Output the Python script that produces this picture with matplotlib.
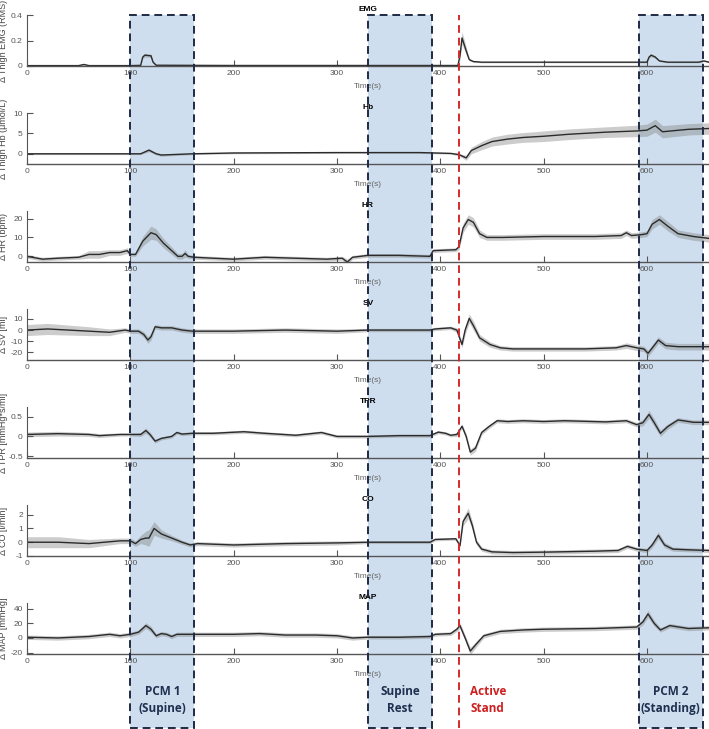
import numpy as np
import matplotlib
matplotlib.use("Agg")
import matplotlib.pyplot as plt
from matplotlib.patches import Rectangle
from matplotlib.transforms import blended_transform_factory

plt.rcParams['font.family'] = ['Liberation Sans', 'DejaVu Sans']

# ---- data (time in s, mean and spread) ----
t_emg = [0, 50, 55, 60, 100, 110, 112, 114, 120, 122, 125, 200, 300, 417, 419, 421, 423, 425, 428, 432, 440, 500, 600, 602, 604, 608, 612, 620, 650, 655, 660]
m_emg = [0.003, 0.003, 0.012, 0.003, 0.003, 0.005, 0.07, 0.085, 0.08, 0.03, 0.006, 0.004, 0.004, 0.004, 0.08, 0.22, 0.17, 0.12, 0.05, 0.035, 0.03, 0.03, 0.03, 0.07, 0.085, 0.07, 0.04, 0.03, 0.03, 0.04, 0.03]
s_emg = [0.004, 0.004, 0.006, 0.004, 0.004, 0.004, 0.012, 0.015, 0.012, 0.008, 0.004, 0.004, 0.004, 0.004, 0.03, 0.05, 0.04, 0.03, 0.01, 0.006, 0.005, 0.005, 0.005, 0.01, 0.012, 0.01, 0.006, 0.005, 0.005, 0.006, 0.005]

t_hb = [0, 100, 110, 118, 125, 130, 160, 200, 300, 380, 410, 418, 425, 430, 440, 450, 465, 480, 500, 525, 560, 590, 600, 608, 615, 640, 660]
m_hb = [0, 0, 0, 0.9, 0, -0.3, 0, 0.2, 0.3, 0.3, 0.1, -0.2, -1.0, 0.8, 2.0, 3.0, 3.6, 4.0, 4.3, 4.8, 5.3, 5.6, 5.8, 6.9, 5.4, 6.0, 6.2]
s_hb = [0.2, 0.2, 0.2, 0.4, 0.3, 0.3, 0.2, 0.2, 0.2, 0.2, 0.2, 0.3, 0.6, 0.8, 1.0, 1.1, 1.2, 1.2, 1.3, 1.3, 1.3, 1.4, 1.5, 1.6, 1.5, 1.4, 1.4]

t_hr = [0, 10, 15, 30, 50, 60, 70, 80, 90, 97, 100, 105, 112, 120, 125, 132, 140, 146, 150, 153, 156, 162, 180, 200, 230, 260, 290, 305, 310, 315, 330, 360, 390, 393, 415, 418, 422, 427, 432, 438, 445, 460, 500, 550, 575, 580, 585, 595, 600, 605, 612, 620, 630, 645, 660]
m_hr = [0, -1, -1.5, -1, -0.5, 1, 1, 2, 2, 3, 1, 1, 8, 12.5, 11.5, 7, 3, 0, 0, 1.5, 0, -0.5, -1, -1.5, -0.5, -1, -1.5, -1, -3, -0.5, 0.5, 0.5, 0, 3, 3.5, 5, 15, 19.5, 18, 12, 10, 10, 10.5, 10.5, 11, 12.5, 11, 11.5, 12, 17, 19.5, 16, 12, 10.5, 9.5]
s_hr = [1, 1, 1, 1, 1, 2, 2, 1.5, 1.5, 1.5, 1, 1, 2.5, 3.5, 3, 2.5, 2, 1.5, 1.5, 2, 1, 1, 1, 1, 1, 1, 1, 1, 1.5, 1, 1, 1, 1, 1, 1, 1.5, 2.5, 2.5, 2.5, 2, 1.5, 1.5, 1.5, 1.5, 1.5, 1.5, 1.5, 1.5, 1.5, 2.5, 2.5, 2.5, 2, 2, 2]

t_sv = [0, 20, 40, 60, 80, 95, 100, 108, 113, 117, 120, 124, 130, 140, 150, 160, 200, 250, 300, 330, 360, 390, 395, 410, 416, 419, 421, 424, 428, 432, 438, 448, 458, 470, 500, 540, 570, 580, 590, 597, 601, 611, 618, 630, 660]
m_sv = [0, 1, 0, -1, -2, 0, -1, -1, -4, -9, -6, 3, 2, 2, 0, -1, -1, 0, -1, 0, 0, 0, 1, 2, 0, -8, -13, 0, 10.5, 4, -7, -13, -16, -17, -17, -17, -16, -14, -16, -17, -21, -9, -14, -15, -15]
s_sv = [5, 5, 4.5, 4, 3, 2, 2, 2, 2.5, 3, 3, 2, 2, 2, 2, 2, 2, 2, 2, 1.5, 1.5, 1.5, 1.5, 1.5, 2, 3, 3, 4, 4, 4, 3, 2.5, 2, 2, 2, 2, 2, 2.5, 2.5, 2.5, 3, 3, 3, 3, 3]

t_tpr = [0, 30, 60, 70, 90, 100, 110, 115, 119, 124, 130, 140, 145, 150, 160, 180, 210, 230, 260, 285, 300, 320, 330, 360, 390, 398, 405, 410, 416, 421, 425, 429, 434, 440, 447, 455, 465, 480, 500, 520, 560, 580, 590, 596, 602, 607, 613, 620, 630, 645, 660]
m_tpr = [0.05, 0.07, 0.05, 0.02, 0.05, 0.05, 0.05, 0.15, 0.05, -0.12, -0.05, 0.0, 0.1, 0.06, 0.08, 0.08, 0.12, 0.08, 0.03, 0.1, 0.0, 0.0, 0.0, 0.02, 0.02, 0.11, 0.08, 0.03, 0.05, 0.26, 0.0, -0.4, -0.3, 0.1, 0.25, 0.4, 0.38, 0.4, 0.38, 0.4, 0.37, 0.4, 0.3, 0.35, 0.56, 0.35, 0.08, 0.25, 0.42, 0.36, 0.36]
s_tpr = [0.06, 0.06, 0.05, 0.05, 0.04, 0.04, 0.05, 0.07, 0.06, 0.05, 0.04, 0.04, 0.04, 0.04, 0.04, 0.04, 0.04, 0.04, 0.04, 0.04, 0.04, 0.04, 0.04, 0.04, 0.04, 0.04, 0.04, 0.04, 0.05, 0.06, 0.07, 0.08, 0.08, 0.06, 0.05, 0.05, 0.05, 0.05, 0.05, 0.05, 0.05, 0.05, 0.06, 0.08, 0.1, 0.1, 0.08, 0.07, 0.06, 0.06, 0.06]

t_co = [0, 30, 60, 90, 100, 105, 110, 115, 118, 123, 130, 140, 150, 158, 165, 200, 250, 300, 330, 360, 390, 395, 415, 419, 422, 427, 431, 435, 440, 450, 470, 500, 550, 572, 581, 590, 600, 605, 611, 617, 625, 640, 660]
m_co = [0, 0, -0.1, 0.1, 0.1, -0.1, 0.2, 0.3, 0.3, 1.0, 0.6, 0.3, 0.0, -0.2, -0.1, -0.2, -0.1, -0.05, 0, 0, 0, 0.2, 0.25, -0.25, 1.5, 2.1, 1.2, 0, -0.5, -0.7, -0.75, -0.72, -0.65, -0.6, -0.3, -0.5, -0.6, -0.2, 0.5, -0.2, -0.5, -0.55, -0.6]
s_co = [0.4, 0.4, 0.3, 0.2, 0.2, 0.2, 0.3, 0.5, 0.6, 0.5, 0.3, 0.2, 0.15, 0.15, 0.15, 0.15, 0.15, 0.15, 0.1, 0.1, 0.1, 0.1, 0.1, 0.15, 0.3, 0.4, 0.3, 0.2, 0.15, 0.15, 0.15, 0.15, 0.15, 0.15, 0.15, 0.15, 0.15, 0.2, 0.25, 0.2, 0.15, 0.15, 0.15]

t_map = [0, 30, 60, 80, 90, 100, 108, 115, 120, 125, 130, 135, 140, 145, 160, 200, 225, 250, 280, 300, 315, 330, 360, 390, 395, 410, 416, 419, 424, 429, 435, 442, 458, 480, 500, 550, 590, 596, 601, 607, 613, 622, 640, 660]
m_map = [1, 0, 2, 5, 3, 5, 8, 17, 12, 3, 6, 5, 2, 5, 5, 5, 6, 4, 4, 3, 0, 1, 1, 2, 5, 6, 12, 17, 0, -18, -8, 3, 9, 11, 12, 13, 15, 22, 33, 20, 11, 17, 13, 14]
s_map = [3, 3, 3, 3, 3, 3, 3, 4, 4, 3, 3, 3, 3, 3, 3, 3, 3, 3, 3, 3, 3, 2.5, 2.5, 2.5, 2.5, 2.5, 3, 4, 4, 5, 4, 3, 3, 3, 3, 3, 3, 4, 5, 4, 3, 3, 3, 3]

titles = ['EMG', 'Hb', 'HR', 'SV', 'TPR', 'CO', 'MAP']
ylabels = ['Δ Thigh EMG (RMS)', 'Δ Thigh Hb (μmol/L)', 'Δ HR (bpm)', 'Δ SV [ml]',
           'Δ TPR [mmHg*s/ml]', 'Δ CO [l/min]', 'Δ MAP [mmHg]']
yticks = [[0, 0.2, 0.4], [0, 5, 10], [0, 10, 20], [-20, -10, 0, 10],
          [-0.5, 0, 0.5], [-1, 0, 1, 2], [-20, 0, 20, 40]]
ytick_labels = [['0', '0.2', '0.4'], ['0', '5', '10'], ['0', '10', '20'], ['-20', '-10', '0', '10'],
                ['-0.5', '0', '0.5'], ['-1', '0', '1', '2'], ['-20', '0', '20', '40']]
ylims = [(0, 0.4), (-2.5, 10), (-3, 24), (-27, 19), (-0.55, 0.75), (-1, 2.7), (-22, 48)]
xticks = [0, 100, 200, 300, 400, 500, 600]

# phases: (start, end, label)
phases = [(100, 162, 'PCM 1\n(Supine)'), (330, 392, 'Supine\nRest'), (592, 654, 'PCM 2\n(Standing)')]
stand_t = 418
stand_label = 'Active\nStand'

series = [(t_emg, m_emg, s_emg), (t_hb, m_hb, s_hb), (t_hr, m_hr, s_hr), (t_sv, m_sv, s_sv),
          (t_tpr, m_tpr, s_tpr), (t_co, m_co, s_co), (t_map, m_map, s_map)]

W, H = 709, 729
fig = plt.figure(figsize=(W / 100, H / 100), dpi=100)

left = 27 / W
width = 1 - left
axes = []
for i, (t, m, s) in enumerate(series):
    top_px = 15 + 98 * i
    ax = fig.add_axes([left, 1 - (top_px + 51) / H, width, 51 / H])
    ax.set_facecolor('none')
    t = np.array(t, float)
    m = np.array(m, float)
    s = np.array(s, float)
    ax.fill_between(t, m - s, m + s, color='#7a7a7a', alpha=0.38, lw=0)
    ax.plot(t, m, color='#2b2b2b', lw=1.0)
    ax.set_xlim(0, 660)
    ax.set_ylim(*ylims[i])
    ax.set_xticks(xticks)
    ax.set_xticklabels([str(v) for v in xticks])
    ax.set_yticks(yticks[i])
    ax.set_yticklabels(ytick_labels[i])
    for sp in ['top', 'right']:
        ax.spines[sp].set_visible(False)
    ax.spines['left'].set_color('#555555')
    ax.spines['bottom'].set_color('#555555')
    ax.spines['left'].set_linewidth(0.8)
    ax.spines['bottom'].set_linewidth(1.0)
    ax.tick_params(direction='in', length=4, width=0.8, colors='#555555',
                   labelsize=6, labelcolor='#555555', pad=3)
    ax.set_xlabel('Time(s)', fontsize=6, color='#666666', labelpad=4)
    ax.set_title(titles[i], fontsize=6, fontweight='bold', pad=3)
    ax.set_ylabel(ylabels[i], fontsize=6.5, color='#444444')
    ax.yaxis.set_label_coords(-0.028, 0.5)
    axes.append(ax)

# phase boxes, stand line and bottom labels across the whole figure
tr = blended_transform_factory(axes[-1].transData, fig.transFigure)
box_top = 1 - 15 / H
box_bot = 1 - 728 / H
for (a, b, lab) in phases:
    fig.add_artist(Rectangle((a, box_bot), b - a, box_top - box_bot, transform=tr,
                             facecolor='#cfdeee', edgecolor='none', zorder=-2))
    fig.add_artist(Rectangle((a, box_bot), b - a, box_top - box_bot, transform=tr,
                             facecolor='none', edgecolor='#1f2a44', lw=1.4,
                             linestyle=(0, (4, 2.5)), zorder=5))
    fig.text((a + b) / 2, 1 - 700 / H, lab, transform=tr, ha='center', va='center',
             fontsize=8.5, fontweight='bold', color='#1f3050', family='Open Sans',
             linespacing=1.35)
fig.add_artist(plt.Line2D([stand_t, stand_t], [box_bot, box_top], transform=tr,
                          color='#d42a2a', lw=1.4, linestyle=(0, (4, 2.5)), zorder=5))
fig.text(stand_t + 28, 1 - 700 / H, stand_label, transform=tr, ha='center', va='center',
         fontsize=8.5, fontweight='bold', color='#cc2020', family='Open Sans',
         linespacing=1.35)

fig.savefig('out.png', dpi=100)
